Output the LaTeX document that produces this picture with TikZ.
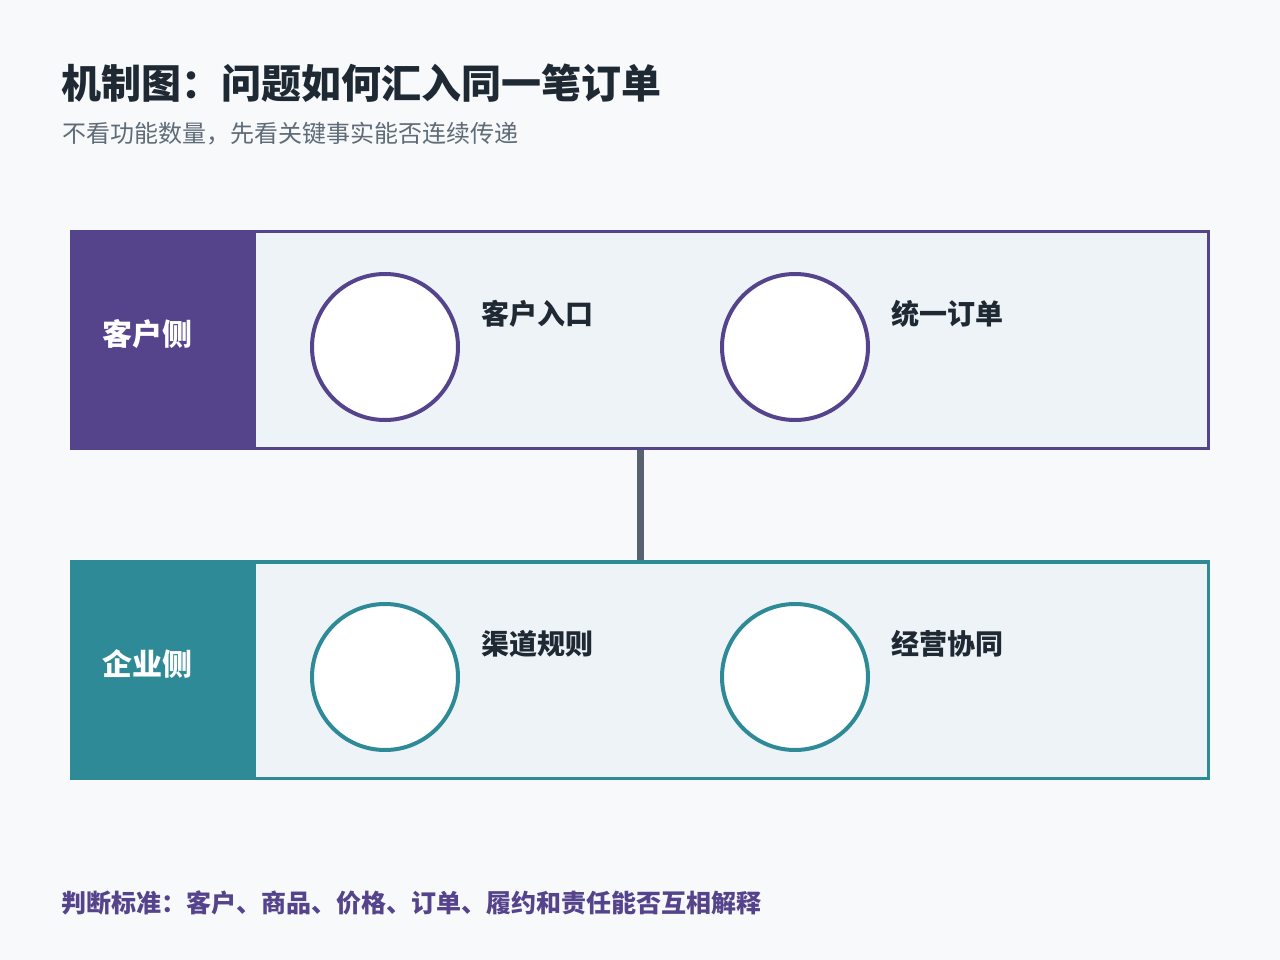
\documentclass[tikz,border=0pt]{standalone}
\usepackage{fontspec}
\setmainfont{Noto Sans CJK SC}
\usetikzlibrary{positioning}

\definecolor{pagebg}{HTML}{F7F9FB}
\definecolor{panelbg}{HTML}{EEF3F8}
\definecolor{violet}{HTML}{55448C}
\definecolor{teal}{HTML}{2E8A96}
\definecolor{ink}{HTML}{1F2933}
\definecolor{muted}{HTML}{5F6B77}
\definecolor{wire}{HTML}{56636E}

\begin{document}
\begin{tikzpicture}[x=1pt,y=-1pt,
    lane/.style={draw=#1,line width=3.5pt,fill=panelbg,minimum width=1136.5pt,minimum height=216.5pt,inner sep=0pt},
    sidetag/.style={fill=#1,minimum width=186pt,minimum height=220pt,inner sep=0pt},
    sidetext/.style={font=\fontsize{30}{35}\selectfont\bfseries,text=white,inner sep=0pt,anchor=west},
    hub/.style={circle,draw=#1,line width=4pt,fill=white,minimum size=146pt,inner sep=0pt},
    tip/.style={font=\fontsize{28}{33}\selectfont\bfseries,text=ink,inner sep=0pt}]
  \fill[pagebg] (0,0) rectangle (1280,960);
  \useasboundingbox (0,0) rectangle (1280,960);

  % heading
  \node[anchor=west,inner sep=0pt,text=ink,font=\fontsize{40}{46}\selectfont\bfseries] (title) at (61,83) {机制图：问题如何汇入同一笔订单};
  \node[anchor=west,inner sep=0pt,text=muted,font=\fontsize{24}{28}\selectfont] (subtitle) at (62,134) {不看功能数量，先看关键事实能否连续传递};

  % two lanes
  \node[lane=violet] (cbox) at (640,340) {};
  \node[sidetag=violet] (cside) at (163,340) {};
  \node[sidetext] (ctext) [right=32pt of cside.west,yshift=6pt] {客户侧};

  \node[lane=teal] (ebox) at (640,670) {};
  \node[sidetag=teal] (eside) at (163,670) {};
  \node[sidetext] (etext) [right=32pt of eside.west,yshift=6pt] {企业侧};

  \draw[wire,line width=7pt] (cbox.south) -- (ebox.north);

  % circles and their labels
  \node[hub=violet] (centry) at (385,347) {};
  \node[tip] (lentry) [right=21pt of centry,yshift=33pt] {客户入口};
  \node[hub=violet] (corder) at (795,347) {};
  \node[tip] (lorder) [right=21pt of corder,yshift=33pt] {统一订单};

  \node[hub=teal] (erule) at (385,677) {};
  \node[tip] (lrule) [right=21pt of erule,yshift=33pt] {渠道规则};
  \node[hub=teal] (ecoop) at (795,677) {};
  \node[tip] (lcoop) [right=21pt of ecoop,yshift=33pt] {经营协同};

  \node[anchor=west,inner sep=0pt,text=violet,font=\fontsize{25}{29}\selectfont\bfseries] (footer) at (61,903) {判断标准：客户、商品、价格、订单、履约和责任能否互相解释};
\end{tikzpicture}
\end{document}
